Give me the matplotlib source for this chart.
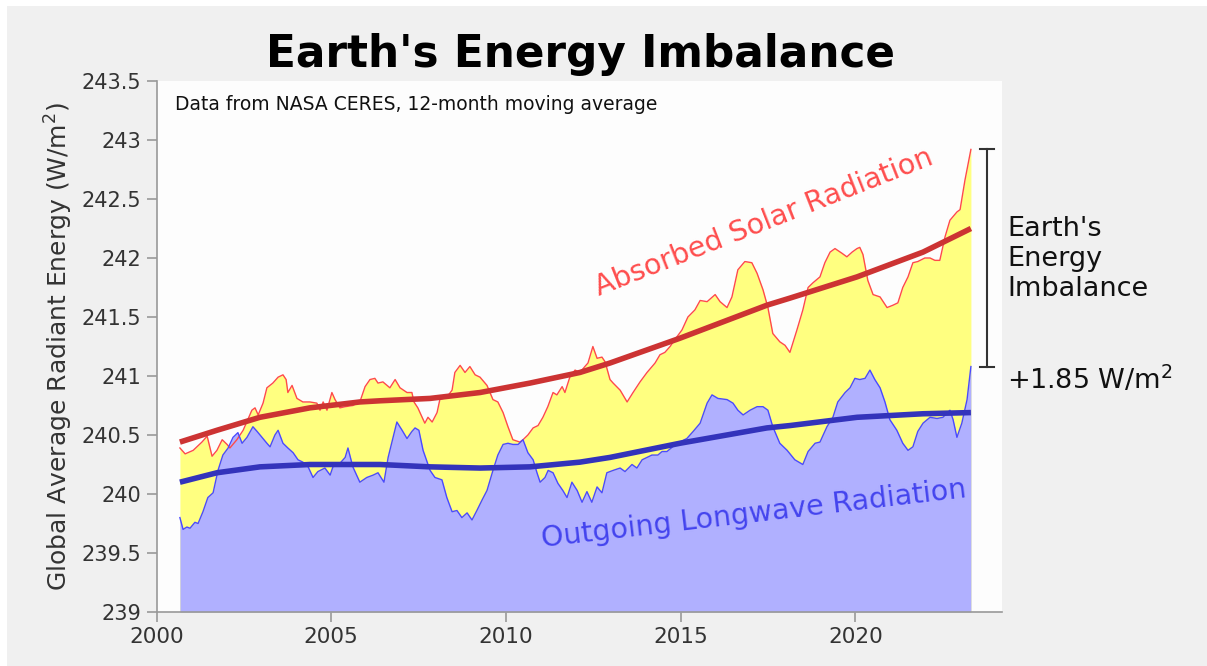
import matplotlib
matplotlib.use("Agg")
import matplotlib.pyplot as plt
from matplotlib.patches import Rectangle

# ---------------- data ----------------
asr_year = [2000.67, 2000.82, 2001.05, 2001.30, 2001.45, 2001.59, 2001.73, 2001.88, 2002.02, 2002.10,
            2002.30, 2002.48, 2002.73, 2002.82, 2002.91, 2003.05, 2003.16, 2003.33, 2003.48, 2003.62,
            2003.71, 2003.76, 2003.88, 2004.02, 2004.19, 2004.39, 2004.59, 2004.68, 2004.77, 2004.88,
            2005.02, 2005.11, 2005.25, 2005.40, 2005.62, 2005.82, 2005.97, 2006.11, 2006.25, 2006.34,
            2006.48, 2006.68, 2006.83, 2006.97, 2007.17, 2007.31, 2007.37, 2007.48, 2007.68, 2007.77,
            2007.89, 2008.03, 2008.11, 2008.31, 2008.46, 2008.54, 2008.69, 2008.83, 2008.97, 2009.12,
            2009.26, 2009.46, 2009.63, 2009.77, 2009.92, 2010.06, 2010.20, 2010.40, 2010.49, 2010.63,
            2010.78, 2010.92, 2011.06, 2011.20, 2011.35, 2011.46, 2011.61, 2011.69, 2011.83, 2011.98,
            2012.12, 2012.26, 2012.35, 2012.49, 2012.61, 2012.75, 2012.84, 2012.98, 2013.07, 2013.27,
            2013.47, 2013.64, 2013.84, 2014.04, 2014.27, 2014.41, 2014.55, 2014.70, 2014.84, 2015.04,
            2015.21, 2015.41, 2015.56, 2015.76, 2015.99, 2016.13, 2016.33, 2016.47, 2016.64, 2016.84,
            2017.04, 2017.19, 2017.36, 2017.50, 2017.64, 2017.84, 2017.99, 2018.13, 2018.33, 2018.50,
            2018.65, 2018.79, 2018.99, 2019.13, 2019.28, 2019.42, 2019.62, 2019.76, 2019.91, 2020.05,
            2020.13, 2020.22, 2020.36, 2020.51, 2020.71, 2020.91, 2021.08, 2021.22, 2021.36, 2021.51,
            2021.65, 2021.79, 2021.99, 2022.14, 2022.28, 2022.42, 2022.57, 2022.71, 2022.91, 2023.00,
            2023.14, 2023.31]
asr_value = [240.39, 240.34, 240.37, 240.44, 240.49, 240.32, 240.37, 240.46, 240.42, 240.39,
             240.46, 240.54, 240.71, 240.73, 240.67, 240.77, 240.90, 240.94, 240.99, 241.01,
             240.97, 240.86, 240.92, 240.81, 240.78, 240.78, 240.77, 240.71, 240.78, 240.71,
             240.86, 240.80, 240.73, 240.74, 240.75, 240.78, 240.91, 240.97, 240.98, 240.94,
             240.95, 240.90, 240.97, 240.90, 240.86, 240.86, 240.78, 240.73, 240.60, 240.65,
             240.61, 240.69, 240.80, 240.82, 240.88, 241.03, 241.09, 241.03, 241.08, 241.01,
             240.99, 240.92, 240.80, 240.78, 240.69, 240.57, 240.46, 240.44, 240.46, 240.50,
             240.56, 240.58, 240.65, 240.74, 240.86, 240.84, 240.91, 240.86, 240.99, 241.05,
             241.03, 241.08, 241.11, 241.25, 241.15, 241.16, 241.12, 240.97, 240.94, 240.88,
             240.78, 240.86, 240.95, 241.03, 241.11, 241.18, 241.20, 241.25, 241.31, 241.39,
             241.50, 241.56, 241.64, 241.63, 241.69, 241.63, 241.58, 241.67, 241.90, 241.97,
             241.96, 241.87, 241.73, 241.58, 241.36, 241.29, 241.26, 241.20, 241.39, 241.56,
             241.75, 241.79, 241.84, 241.96, 242.05, 242.08, 242.04, 242.01, 242.05, 242.08,
             242.09, 242.03, 241.81, 241.69, 241.67, 241.58, 241.60, 241.62, 241.75, 241.84,
             241.96, 241.97, 242.00, 242.00, 241.98, 241.98, 242.18, 242.32, 242.39, 242.41,
             242.66, 242.92]

olr_year = [2000.67, 2000.76, 2000.87, 2000.96, 2001.10, 2001.19, 2001.33, 2001.47, 2001.62, 2001.76,
            2001.90, 2002.05, 2002.19, 2002.33, 2002.45, 2002.59, 2002.76, 2002.88, 2003.02, 2003.16,
            2003.25, 2003.39, 2003.48, 2003.62, 2003.76, 2003.91, 2004.05, 2004.19, 2004.34, 2004.48,
            2004.62, 2004.82, 2004.97, 2005.05, 2005.25, 2005.40, 2005.48, 2005.62, 2005.82, 2006.02,
            2006.20, 2006.34, 2006.51, 2006.63, 2006.77, 2006.88, 2007.03, 2007.17, 2007.31, 2007.40,
            2007.51, 2007.63, 2007.83, 2007.97, 2008.17, 2008.31, 2008.46, 2008.60, 2008.74, 2008.89,
            2009.03, 2009.17, 2009.32, 2009.46, 2009.63, 2009.77, 2009.92, 2010.06, 2010.20, 2010.35,
            2010.49, 2010.63, 2010.78, 2010.89, 2010.98, 2011.12, 2011.21, 2011.35, 2011.49, 2011.63,
            2011.75, 2011.89, 2012.04, 2012.18, 2012.32, 2012.46, 2012.61, 2012.75, 2012.89, 2013.07,
            2013.27, 2013.41, 2013.61, 2013.75, 2013.90, 2014.04, 2014.18, 2014.35, 2014.47, 2014.61,
            2014.90, 2015.18, 2015.36, 2015.56, 2015.76, 2015.90, 2016.07, 2016.33, 2016.50, 2016.64,
            2016.79, 2016.99, 2017.19, 2017.36, 2017.50, 2017.64, 2017.84, 2018.05, 2018.27, 2018.50,
            2018.65, 2018.85, 2018.99, 2019.19, 2019.36, 2019.50, 2019.71, 2019.85, 2019.99, 2020.13,
            2020.28, 2020.42, 2020.56, 2020.71, 2020.85, 2020.99, 2021.19, 2021.36, 2021.51, 2021.65,
            2021.79, 2021.94, 2022.14, 2022.34, 2022.51, 2022.71, 2022.80, 2022.91, 2023.05, 2023.20,
            2023.31]
olr_value = [239.80, 239.70, 239.72, 239.71, 239.76, 239.75, 239.85, 239.97, 240.01, 240.20,
             240.33, 240.39, 240.48, 240.52, 240.43, 240.48, 240.57, 240.53, 240.48, 240.43,
             240.40, 240.50, 240.54, 240.43, 240.39, 240.35, 240.29, 240.27, 240.23, 240.14,
             240.19, 240.22, 240.16, 240.23, 240.26, 240.31, 240.39, 240.23, 240.10, 240.14,
             240.16, 240.18, 240.10, 240.31, 240.48, 240.61, 240.54, 240.47, 240.53, 240.56,
             240.54, 240.37, 240.20, 240.14, 240.12, 239.97, 239.85, 239.86, 239.80, 239.84,
             239.78, 239.86, 239.95, 240.03, 240.20, 240.33, 240.42, 240.43, 240.42, 240.42,
             240.46, 240.35, 240.29, 240.18, 240.10, 240.14, 240.20, 240.18, 240.09, 240.03,
             239.97, 240.10, 240.03, 239.93, 240.02, 239.93, 240.06, 240.01, 240.18, 240.20,
             240.22, 240.19, 240.25, 240.22, 240.29, 240.31, 240.33, 240.33, 240.36, 240.36,
             240.43, 240.47, 240.53, 240.60, 240.77, 240.84, 240.81, 240.80, 240.77, 240.71,
             240.67, 240.71, 240.74, 240.74, 240.71, 240.57, 240.43, 240.37, 240.29, 240.25,
             240.36, 240.43, 240.44, 240.57, 240.65, 240.78, 240.86, 240.90, 240.98, 240.97,
             240.98, 241.05, 240.97, 240.90, 240.78, 240.63, 240.54, 240.43, 240.37, 240.40,
             240.53, 240.60, 240.65, 240.64, 240.65, 240.71, 240.63, 240.48, 240.60, 240.80,
             241.08]

trend_year = [2000.67, 2001.73, 2002.96, 2004.39, 2005.82, 2006.40, 2007.83, 2009.26, 2010.69,
              2012.12, 2012.98, 2014.98, 2017.47, 2018.13, 2020.05, 2021.94, 2023.31]
asr_trend = [240.44, 240.54, 240.65, 240.73, 240.78, 240.79, 240.81, 240.86, 240.94,
             241.03, 241.11, 241.32, 241.60, 241.66, 241.84, 242.05, 242.25]
olr_trend = [240.10, 240.18, 240.23, 240.25, 240.25, 240.25, 240.23, 240.22, 240.23,
             240.27, 240.31, 240.43, 240.56, 240.58, 240.65, 240.68, 240.69]

x_ticks = [2000, 2005, 2010, 2015, 2020]
y_ticks = [239, 239.5, 240, 240.5, 241, 241.5, 242, 242.5, 243, 243.5]
y_tick_labels = ["239", "239.5", "240", "240.5", "241", "241.5", "242", "242.5", "243", "243.5"]

imbalance_label = "+1.85 W/m$^2$"

# ---------------- figure ----------------
plt.rcParams['font.family'] = ['DejaVu Sans']
fig = plt.figure(figsize=(12.07, 6.66), dpi=100, facecolor='#f0f0f0')
# thin white border on top and left edges as in the reference
fig.patches.append(Rectangle((0, 1 - 6 / 666), 1, 6 / 666, transform=fig.transFigure,
                             facecolor='white', edgecolor='none', zorder=-10))
fig.patches.append(Rectangle((0, 0), 7 / 1207, 1, transform=fig.transFigure,
                             facecolor='white', edgecolor='none', zorder=-10))

ax = fig.add_axes([156.5 / 1207, 54 / 666, (1002 - 156.5) / 1207, (612 - 81) / 666])
ax.set_facecolor('#fdfdfd')

ymin, ymax = 239, 243.5
ax.fill_between(asr_year, asr_value, ymin, color='#ffff80', linewidth=0, zorder=1)
ax.fill_between(olr_year, olr_value, ymin, color='#b0b0ff', linewidth=0, zorder=2)
ax.plot(asr_year, asr_value, color='#ff4a4a', lw=1.0, zorder=3)
ax.plot(olr_year, olr_value, color='#4a4aff', lw=1.0, zorder=3)
ax.plot(trend_year, asr_trend, color='#cc3333', lw=4.0, solid_capstyle='butt', zorder=4)
ax.plot(trend_year, olr_trend, color='#3333bb', lw=4.0, solid_capstyle='butt', zorder=4)

ax.set_xlim(2000, 2024.2)
ax.set_ylim(ymin, ymax)
ax.set_xticks(x_ticks)
ax.set_xticklabels([str(t) for t in x_ticks])
ax.set_yticks(y_ticks)
ax.set_yticklabels(y_tick_labels)

for s in ['top', 'right']:
    ax.spines[s].set_visible(False)
for s in ['left', 'bottom']:
    ax.spines[s].set_color('#999999')
    ax.spines[s].set_linewidth(1.2)
ax.tick_params(axis='both', direction='out', length=7, width=1.2, color='#999999',
               labelcolor='#333333', labelsize=15, pad=4)
ax.tick_params(axis='x', labelsize=15.5)

ax.set_ylabel('Global Average Radiant Energy (W/m$^2$)', fontsize=18, color='#333333', labelpad=5)

fig.text(0.5 * (262 + 898) / 1207, 1 - 55 / 666, "Earth's Energy Imbalance",
         ha='center', va='center', fontsize=31.5, fontweight='bold', color='black')

ax.text(0.022, 0.955, 'Data from NASA CERES, 12-month moving average', transform=ax.transAxes,
        ha='left', va='center', fontsize=13.5, color='#111111')

ax.text(2017.4, 242.30, 'Absorbed Solar Radiation', rotation=21.5, rotation_mode='anchor',
        ha='center', va='center', fontsize=20.5, color='#ff4d4d', zorder=5)
ax.text(2017.1, 239.83, 'Outgoing Longwave Radiation', rotation=6.7, rotation_mode='anchor',
        ha='center', va='center', fontsize=20.5, color='#4444ee', zorder=5)

# bracket showing the imbalance between the two final values
bx = 2023.77
top_v, bot_v = asr_value[-1], olr_value[-1]
ax.plot([bx, bx], [top_v, bot_v], color='#333333', lw=1.5, clip_on=False, zorder=5)
ax.plot([bx - 0.2, bx + 0.2], [top_v, top_v], color='#333333', lw=1.5, clip_on=False, zorder=5)
ax.plot([bx - 0.2, bx + 0.2], [bot_v, bot_v], color='#333333', lw=1.5, clip_on=False, zorder=5)

fig.text(1007 / 1207, 1 - 259 / 666, "Earth's\nEnergy\nImbalance", ha='left', va='center',
         fontsize=19.5, color='#111111', linespacing=1.2)
fig.text(1007 / 1207, 1 - 380 / 666, imbalance_label, ha='left', va='center',
         fontsize=19.5, color='#111111')

fig.savefig('out.png', dpi=100, facecolor=fig.get_facecolor())
